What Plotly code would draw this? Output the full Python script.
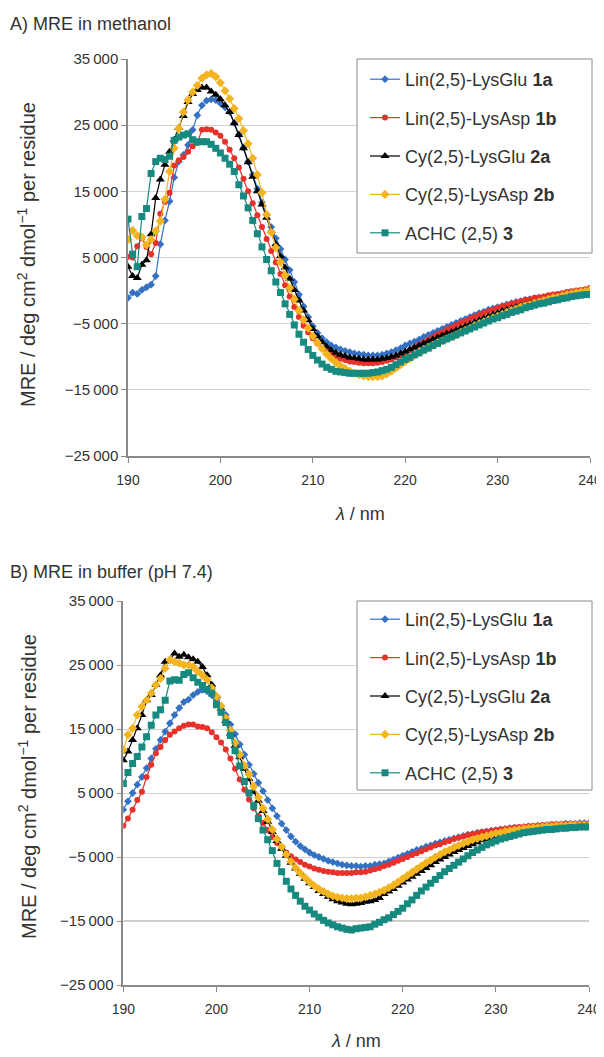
import plotly.graph_objects as go

# ---------------- data ----------------
wavelength = [190.0, 190.5, 191.0, 191.5, 192.0, 192.5, 193.0, 193.5, 194.0, 194.5,
              195.0, 195.5, 196.0, 196.5, 197.0, 197.5, 198.0, 198.5, 199.0, 199.5,
              200.0, 200.5, 201.0, 201.5, 202.0, 202.5, 203.0, 203.5, 204.0, 204.5,
              205.0, 205.5, 206.0, 206.5, 207.0, 207.5, 208.0, 208.5, 209.0, 209.5,
              210.0, 210.5, 211.0, 211.5, 212.0, 212.5, 213.0, 213.5, 214.0, 214.5,
              215.0, 215.5, 216.0, 216.5, 217.0, 217.5, 218.0, 218.5, 219.0, 219.5,
              220.0, 220.5, 221.0, 221.5, 222.0, 222.5, 223.0, 223.5, 224.0, 224.5,
              225.0, 225.5, 226.0, 226.5, 227.0, 227.5, 228.0, 228.5, 229.0, 229.5,
              230.0, 230.5, 231.0, 231.5, 232.0, 232.5, 233.0, 233.5, 234.0, 234.5,
              235.0, 235.5, 236.0, 236.5, 237.0, 237.5, 238.0, 238.5, 239.0, 239.5,
              240.0]

# A) methanol
meoh_1a = [-1100, -300, -500, 100, 500, 900, 2200, 7000, 10600, 13500,
           17100, 19500, 20500, 22000, 24300, 26500, 28000, 28700, 28900, 28800,
           28300, 27700, 27000, 25300, 23600, 21600, 19500, 17500, 15400, 13300,
           11400, 9600, 7900, 6300, 4700, 3100, 1300, -600, -2400, -4000,
           -5400, -6400, -7200, -7800, -8300, -8600, -8900, -9100, -9300, -9500,
           -9600, -9700, -9800, -9800, -9800, -9700, -9500, -9300, -9000, -8700,
           -8300, -8000, -7700, -7400, -7000, -6700, -6400, -6100, -5800, -5500,
           -5200, -4900, -4600, -4300, -4000, -3700, -3400, -3200, -2900, -2700,
           -2500, -2300, -2100, -1900, -1700, -1600, -1400, -1300, -1200, -1100,
           -1000, -900, -800, -700, -600, -500, -400, -300, -200, -100,
           100]
meoh_1b = [5100, 5000, 6700, 7900, 6600, 5500, 7200, 11600, 13400, 14800,
           18900, 19700, 20200, 21000, 21800, 22300, 24300, 24400, 24300, 23900,
           23400, 22500, 21300, 20000, 18600, 16900, 15000, 13200, 11400, 9600,
           7800, 6000, 4300, 2500, 800, -900, -2500, -4000, -5300, -6300,
           -7200, -8000, -8700, -9200, -9700, -10000, -10300, -10500, -10700, -10800,
           -10900, -11000, -11000, -11000, -10900, -10800, -10600, -10400, -10100, -9800,
           -9400, -9000, -8600, -8200, -7800, -7400, -7000, -6600, -6300, -5900,
           -5600, -5200, -4900, -4600, -4300, -4000, -3700, -3400, -3100, -2900,
           -2600, -2400, -2200, -2000, -1800, -1600, -1400, -1300, -1100, -1000,
           -900, -700, -600, -500, -400, -200, -100, 0, 100, 200,
           400]
meoh_2a = [3600, 2200, 1900, 3900, 4600, 8500, 14000, 16800, 19000, 21000,
           22800, 24600, 26400, 28500, 29700, 30300, 30700, 30700, 30100, 29600,
           28900, 28000, 27000, 25300, 23500, 21500, 19400, 17200, 15000, 13000,
           11000, 9000, 7000, 5200, 3500, 1800, 100, -1500, -3000, -4500,
           -5800, -6900, -7800, -8500, -9000, -9400, -9700, -9900, -10100, -10200,
           -10300, -10400, -10400, -10400, -10400, -10300, -10200, -10000, -9800, -9500,
           -9200, -8900, -8600, -8300, -8000, -7700, -7400, -7100, -6800, -6500,
           -6300, -6000, -5700, -5400, -5100, -4800, -4500, -4200, -3900, -3600,
           -3400, -3100, -2900, -2700, -2500, -2300, -2100, -1900, -1800, -1600,
           -1500, -1300, -1200, -1100, -900, -800, -600, -500, -400, -200,
           -100]
meoh_2b = [7700, 9100, 8300, 8100, 6900, 7700, 9000, 10500, 13800, 18000,
           21500, 24500, 27000, 28800, 30000, 31000, 32100, 32600, 32800, 32300,
           31400, 30200, 29000, 27500, 26000, 24200, 22200, 20000, 17500, 14800,
           11500, 8800, 6500, 4300, 2300, 400, -1300, -3000, -4400, -5700,
           -6900, -7900, -8800, -9600, -10300, -10900, -11400, -11800, -12200, -12500,
           -12700, -12900, -13000, -13000, -13000, -12900, -12600, -12200, -11700, -11200,
           -10700, -10300, -9800, -9400, -9000, -8600, -8300, -7900, -7600, -7300,
           -7000, -6700, -6300, -6000, -5700, -5300, -5000, -4700, -4400, -4100,
           -3900, -3600, -3300, -3000, -2800, -2500, -2300, -2100, -1900, -1700,
           -1500, -1300, -1100, -1000, -800, -600, -500, -300, -200, -100,
           100]
meoh_3 = [10800, 5500, 3600, 11200, 12400, 17700, 19500, 20000, 19800, 20300,
          22700, 23200, 23500, 23700, 22800, 22500, 22500, 22500, 22100, 21500,
          20800, 20000, 19100, 18000, 16000, 14300, 12500, 10600, 8600, 6600,
          4700, 3000, 1300, -300, -2000, -3600, -5200, -6600, -7800, -8900,
          -9800, -10500, -11100, -11600, -11900, -12200, -12300, -12400, -12500, -12500,
          -12500, -12500, -12500, -12400, -12300, -12100, -11900, -11600, -11200, -10800,
          -10400, -10100, -9700, -9400, -9000, -8700, -8300, -8000, -7600, -7300,
          -7000, -6700, -6400, -6100, -5800, -5500, -5200, -4900, -4600, -4300,
          -4100, -3800, -3600, -3300, -3100, -2900, -2600, -2400, -2200, -2000,
          -1900, -1700, -1500, -1400, -1200, -1100, -900, -800, -700, -600,
          -600]

# B) buffer pH 7.4
buf_1a = [2400, 3700, 5000, 6300, 7500, 8900, 10400, 11900, 13300, 14600,
          15900, 17200, 18300, 19200, 19600, 20300, 20800, 21100, 20900, 20300,
          19500, 18500, 17200, 15700, 14200, 12600, 11000, 9400, 8000, 6600,
          5300, 3900, 2600, 1400, 200, -800, -1800, -2600, -3300, -3800,
          -4300, -4700, -5000, -5300, -5600, -5800, -6000, -6200, -6300, -6400,
          -6400, -6500, -6400, -6400, -6200, -6100, -6000, -5700, -5400, -5100,
          -4800, -4500, -4200, -3900, -3700, -3400, -3200, -2900, -2700, -2500,
          -2300, -2100, -1900, -1700, -1500, -1400, -1200, -1100, -1000, -900,
          -800, -700, -600, -500, -400, -400, -300, -200, -200, -100,
          -100, 0, 0, 100, 100, 200, 200, 200, 300, 300,
          300]
buf_1b = [-100, 1000, 2400, 3900, 5200, 7500, 9400, 11200, 12200, 13300,
          14100, 14600, 15100, 15500, 15700, 15700, 15400, 15300, 15100, 14500,
          13700, 12900, 11800, 10400, 8800, 7100, 5500, 4000, 2600, 1400,
          300, -800, -1900, -2800, -3600, -4300, -4900, -5400, -5800, -6200,
          -6500, -6800, -7000, -7200, -7300, -7400, -7500, -7500, -7500, -7500,
          -7400, -7400, -7300, -7100, -6900, -6700, -6400, -6200, -5900, -5600,
          -5300, -5000, -4700, -4400, -4100, -3800, -3500, -3200, -3000, -2700,
          -2500, -2200, -2000, -1800, -1600, -1400, -1300, -1100, -1000, -900,
          -800, -700, -600, -500, -400, -300, -300, -200, -100, -100,
          0, 0, 100, 100, 100, 200, 200, 200, 200, 200,
          200]
buf_2a = [10100, 11500, 13300, 15100, 17200, 19500, 20300, 21900, 23400, 25500,
          25800, 26800, 26300, 26600, 26200, 25900, 25500, 24700, 23400, 21900,
          20100, 18200, 16300, 14300, 12400, 10600, 8800, 7200, 5200, 3800,
          2200, 500, -1100, -2500, -3700, -4800, -5900, -6800, -7600, -8400,
          -9100, -9700, -10300, -10800, -11200, -11600, -11900, -12100, -12300, -12400,
          -12300, -12200, -12000, -11900, -11700, -11400, -10800, -10400, -10000, -9500,
          -9000, -8500, -8100, -7600, -7200, -6700, -6300, -5800, -5400, -5000,
          -4600, -4200, -3900, -3600, -3300, -3000, -2700, -2400, -2200, -2000,
          -1800, -1600, -1400, -1300, -1100, -1000, -900, -800, -700, -600,
          -500, -400, -400, -300, -300, -200, -200, -200, -100, -100,
          -100]
buf_2b = [11700, 14100, 15100, 17200, 18500, 19500, 20600, 21900, 22900, 24500,
          25800, 25500, 25300, 25000, 25000, 24700, 24000, 23400, 22700, 21400,
          20100, 18600, 16700, 14800, 12800, 11000, 9300, 7900, 6000, 4300,
          2600, 900, -700, -2200, -3400, -4600, -5700, -6700, -7500, -8200,
          -8900, -9500, -10000, -10400, -10800, -11100, -11300, -11400, -11500, -11500,
          -11400, -11400, -11200, -11000, -10800, -10500, -10200, -9800, -9400, -8900,
          -8400, -7900, -7400, -6900, -6400, -5900, -5500, -5000, -4600, -4200,
          -3900, -3500, -3200, -2900, -2600, -2300, -2100, -1900, -1700, -1500,
          -1300, -1200, -1000, -900, -800, -700, -600, -500, -400, -400,
          -300, -200, -200, -100, -100, -100, 0, 0, 0, 0,
          0]
buf_3 = [6500, 8200, 9600, 10700, 12200, 13800, 15600, 17200, 18000, 19500,
         22500, 22700, 22600, 23500, 23800, 23000, 22300, 21800, 21200, 20600,
         18800, 17600, 16000, 14000, 11600, 9200, 6800, 5000, 3000, 1000,
         -800, -2300, -4000, -6000, -7300, -8800, -10000, -11000, -11900, -12700,
         -13300, -13900, -14400, -14900, -15300, -15600, -15900, -16100, -16300, -16400,
         -16200, -16100, -16000, -15900, -15500, -15200, -14800, -14500, -14000, -13500,
         -13000, -12300, -11700, -11000, -10300, -9700, -9100, -8500, -7900, -7300,
         -6800, -6300, -5800, -5300, -4800, -4300, -3900, -3500, -3100, -2800,
         -2500, -2200, -2000, -1800, -1600, -1400, -1200, -1100, -1000, -900,
         -800, -700, -700, -600, -500, -500, -400, -400, -300, -300,
         -300]

series_names = ["Lin(2,5)-LysGlu <b>1a</b>", "Lin(2,5)-LysAsp <b>1b</b>",
                "Cy(2,5)-LysGlu <b>2a</b>", "Cy(2,5)-LysAsp <b>2b</b>",
                "ACHC (2,5) <b>3</b>"]
x_ticks = [190, 200, 210, 220, 230, 240]
y_ticks = [-25000, -15000, -5000, 5000, 15000, 25000, 35000]
y_ticktext = ["\u221225\u2009000", "\u221215\u2009000", "\u22125\u2009000", "5\u2009000",
              "15\u2009000", "25\u2009000", "35\u2009000"]

# ---------------- styling ----------------
colors = ["#3571c3", "#e8312b", "#000000", "#f4b41f", "#178a80"]
symbols = ["diamond", "circle", "triangle-up", "diamond", "square"]
sizes = [6, 6, 8, 7, 7]
OFF = 8  # page body margin; target pixel positions are shifted by this
W, H = 604 - OFF, 1057 - OFF
FONT = "Liberation Sans, Arial, sans-serif"
TXT = "#333333"
AX = "#8a8a8a"
GRID = "#d2d2d2"


def px(x):
    return (x - OFF) / W


def py(y):
    return 1 - (y - OFF) / H


fig = go.Figure()
panels = [(meoh_1a, meoh_1b, meoh_2a, meoh_2b, meoh_3),
          (buf_1a, buf_1b, buf_2a, buf_2b, buf_3)]
for p, data in enumerate(panels):
    for i, vals in enumerate(data):
        fig.add_trace(go.Scatter(
            x=wavelength, y=vals, mode="lines+markers", name=series_names[i],
            line=dict(color=colors[i], width=1.2),
            marker=dict(symbol=symbols[i], size=sizes[i], color=colors[i],
                        line=dict(width=0)),
            xaxis="x" if p == 0 else "x2", yaxis="y" if p == 0 else "y2",
            legend="legend" if p == 0 else "legend2",
            legendgroup=f"p{p}s{i}",
        ))


def xax(domain, anchor):
    return dict(domain=domain, anchor=anchor, range=[190, 240], tickvals=x_ticks,
                showgrid=False, zeroline=False, showline=True, linecolor=AX,
                linewidth=1.5, ticks="outside", ticklen=5, tickcolor=AX,
                ticklabelstandoff=5, automargin=False,
                tickfont=dict(family=FONT, size=14, color=TXT))


def yax(domain, anchor):
    return dict(domain=domain, anchor=anchor, range=[-25000, 35000],
                tickvals=y_ticks, ticktext=y_ticktext, showgrid=True,
                gridcolor=GRID, gridwidth=1, zeroline=False, showline=True,
                linecolor=AX, linewidth=1.5, ticks="outside", ticklen=5,
                tickcolor=AX, automargin=False,
                tickfont=dict(family=FONT, size=15, color=TXT))


def legend(ytop):
    return dict(x=px(365), y=py(ytop), xanchor="left", yanchor="top",
                bgcolor="rgba(0,0,0,0)", borderwidth=0,
                font=dict(family=FONT, size=18, color=TXT),
                tracegroupgap=12, itemwidth=30)


def legend_box(y0, y1):
    return dict(type="rect", xref="paper", yref="paper",
                x0=px(357), x1=px(592), y0=py(y1), y1=py(y0),
                line=dict(color=AX, width=1), fillcolor="white", layer="above")


ytitle = "MRE / deg cm<sup>2</sup> dmol<sup>\u22121</sup> per residue"
ann = [
    dict(text="A) MRE in methanol", x=px(8), y=py(24), xanchor="left",
         yanchor="middle", font=dict(size=18)),
    dict(text="B) MRE in buffer (pH 7.4)", x=px(8), y=py(572),
         xanchor="left", yanchor="middle", font=dict(size=18)),
    dict(text=ytitle, x=px(27), y=py(255), textangle=-90, xanchor="center",
         yanchor="middle", font=dict(size=20)),
    dict(text=ytitle, x=px(27), y=py(787), textangle=-90, xanchor="center",
         yanchor="middle", font=dict(size=20)),
    dict(text="<i>\u03bb</i> / nm", x=px(359.5), y=py(514),
         xanchor="center", yanchor="middle", font=dict(size=18)),
    dict(text="<i>\u03bb</i> / nm", x=px(356.5), y=py(1041),
         xanchor="center", yanchor="middle", font=dict(size=18)),
]
for a in ann:
    a.update(xref="paper", yref="paper", showarrow=False)
    a["font"].update(family=FONT, color=TXT)

fig.update_layout(
    width=W, height=H,
    margin=dict(l=0, r=0, t=0, b=0, pad=0, autoexpand=False),
    paper_bgcolor="white", plot_bgcolor="white",
    xaxis=xax([px(128), px(590)], "y"),
    yaxis=yax([py(456), py(59)], "x"),
    xaxis2=xax([px(123.3), px(589)], "y2"),
    yaxis2=yax([py(985), py(601)], "x2"),
    legend=legend(61),
    legend2=legend(601),
    annotations=ann,
    shapes=[dict(type="line", xref="x2", yref="y2", x0=190, x1=240,
                 y0=-15000, y1=-15000, line=dict(color="#a98e8e", width=1),
                 layer="below"),
            legend_box(59, 253),
            legend_box(601, 790)],
    showlegend=True,
)

fig.write_html("out.html")
